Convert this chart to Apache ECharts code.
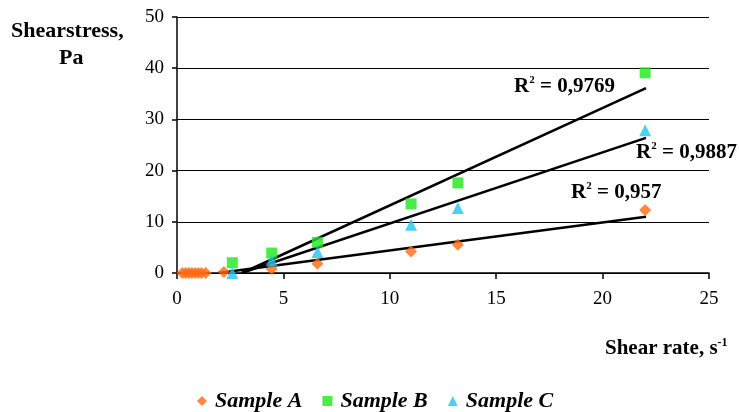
<!DOCTYPE html>
<html><head><meta charset="utf-8">
<script src="https://cdn.jsdelivr.net/npm/echarts@6/dist/echarts.min.js"></script>
<style>html,body{margin:0;padding:0;background:#fff}#c{width:739px;height:412px}</style>
</head><body><div id="c"></div>
<script>
// Data
const sampleA = [[0.25,0],[0.4,0],[0.55,0],[0.7,0],[0.85,0],[1.0,0],[1.15,0],[1.35,0],[2.2,0.2],[4.45,0.8],[6.6,1.8],[11.0,4.2],[13.2,5.5],[22.0,12.3]];
const sampleB = [[2.6,2.0],[4.45,3.9],[6.6,6.0],[11.0,13.5],[13.2,17.6],[22.0,39.1]];
const sampleC = [[2.6,0],[4.45,2.5],[6.6,4.1],[11.0,9.4],[13.2,12.7],[22.0,27.9]];
// Linear trendline endpoints
const trendA = [[1.94,0],[22.04,11.0]];
const trendB = [[3.06,0],[22.04,36.1]];
const trendC = [[3.03,0],[22.04,26.4]];
const r2Labels = ['0,9769','0,9887','0,957'];
const xTicks = {min:0,max:25,interval:5};
const yTicks = {min:0,max:50,interval:10};

const serif = '"Liberation Serif", "DejaVu Serif", serif';
const chart = echarts.init(document.getElementById('c'));
function r2(v, x, y){
  return {
    type:'text', x:x, y:y,
    style:{
      text:'{a|R}{s|2}{a| = '+v+'}',
      verticalAlign:'middle',
      rich:{
        a:{fontFamily:serif,fontWeight:'bold',fontSize:21,fill:'#000',lineHeight:24},
        s:{fontFamily:serif,fontWeight:'bold',fontSize:11,fill:'#000',verticalAlign:'top',padding:[0,0,12,0],lineHeight:24}
      }
    }
  };
}

chart.setOption({
  animation:false,
  grid:{left:177,right:30,top:17,bottom:139},
  xAxis:{type:'value',min:xTicks.min,max:xTicks.max,interval:xTicks.interval,
    axisLine:{show:true,onZero:false,lineStyle:{color:'#000',width:1.5}},
    axisTick:{show:true,length:6,lineStyle:{color:'#000',width:1.5}},
    splitLine:{show:false},
    axisLabel:{color:'#000',fontFamily:serif,fontSize:19,margin:17}},
  yAxis:{type:'value',min:yTicks.min,max:yTicks.max,interval:yTicks.interval,
    axisLine:{show:true,lineStyle:{color:'#000',width:1.5}},
    axisTick:{show:true,length:5,lineStyle:{color:'#000',width:1.5}},
    splitLine:{show:true,lineStyle:{color:'#000',width:1.2}},
    axisLabel:{color:'#000',fontFamily:serif,fontSize:19,margin:13}},
  legend:{top:385,left:192,itemGap:20,itemWidth:10,itemHeight:10,
    data:['Sample A','Sample B','Sample C'],
    textStyle:{fontFamily:serif,fontStyle:'italic',fontWeight:'bold',fontSize:22,color:'#000',padding:[0,0,0,3]}},
  graphic:[
    {type:'text',x:11,y:31,style:{text:'Shearstress,',verticalAlign:'middle',fontFamily:serif,fontWeight:'bold',fontSize:22,fill:'#000'}},
    {type:'text',x:59,y:58,style:{text:'Pa',verticalAlign:'middle',fontFamily:serif,fontWeight:'bold',fontSize:22,fill:'#000'}},
    {type:'text',x:605,y:349,style:{text:'{a|Shear rate, s}{s|-1}',verticalAlign:'middle',rich:{
      a:{fontFamily:serif,fontWeight:'bold',fontSize:21,fill:'#000',lineHeight:24},
      s:{fontFamily:serif,fontWeight:'bold',fontSize:12,fill:'#000',verticalAlign:'top',padding:[0,0,14,0],lineHeight:24}}}},
    r2(r2Labels[0],514,87), r2(r2Labels[1],636,153), r2(r2Labels[2],571,193)
  ],
  series:[
    {name:'trendA',type:'line',data:trendA,symbol:'none',clip:true,lineStyle:{color:'#000',width:2.5},z:3},
    {name:'trendB',type:'line',data:trendB,symbol:'none',clip:true,lineStyle:{color:'#000',width:2.5},z:3},
    {name:'trendC',type:'line',data:trendC,symbol:'none',clip:true,lineStyle:{color:'#000',width:2.5},z:3},
    {name:'Sample A',type:'scatter',data:sampleA,symbol:'diamond',symbolSize:12,itemStyle:{color:'#ff6a13'},z:4,clip:false},
    {name:'Sample B',type:'scatter',data:sampleB,symbol:'rect',symbolSize:11,itemStyle:{color:'#1ee61e'},z:4,clip:false},
    {name:'Sample C',type:'scatter',data:sampleC,symbol:'triangle',symbolSize:12,itemStyle:{color:'#22c4f2'},z:4,clip:false}
  ]
});
</script></body></html>
